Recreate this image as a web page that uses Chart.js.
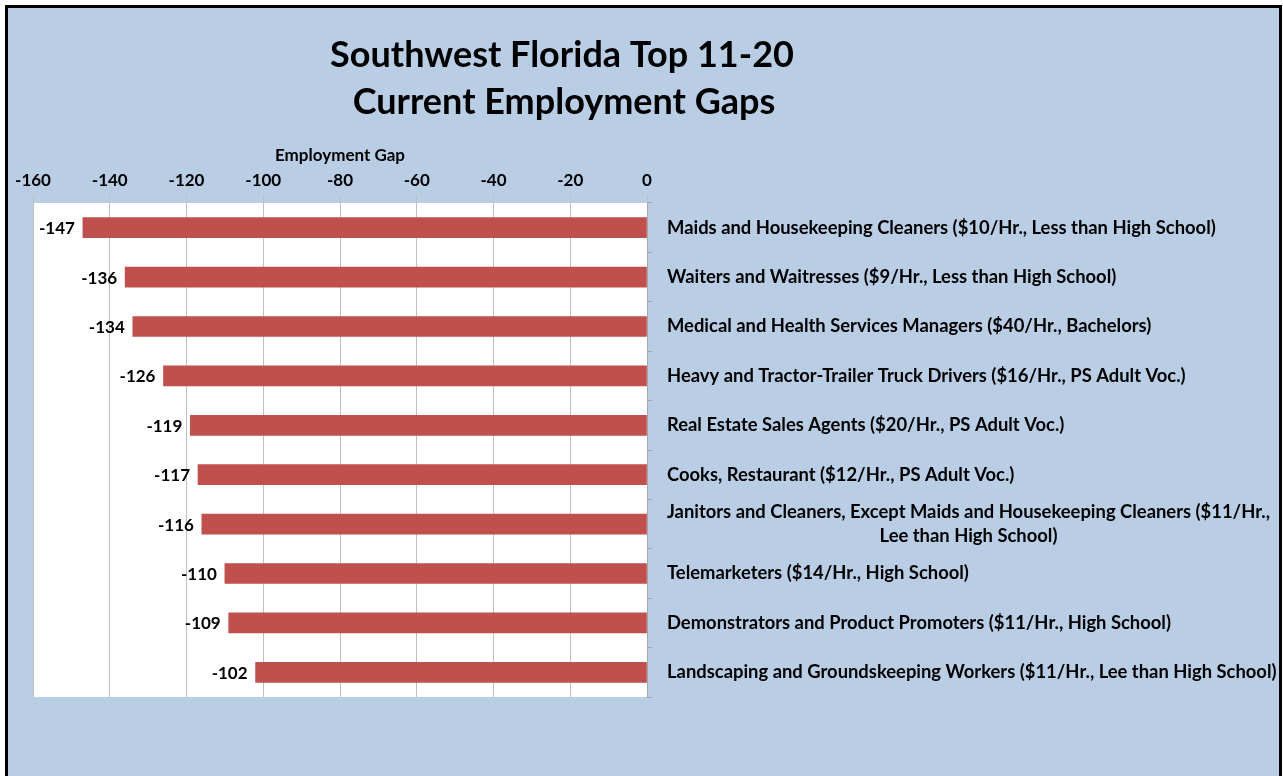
<!DOCTYPE html>
<html>
<head>
<meta charset="utf-8">
<script src="https://cdn.jsdelivr.net/npm/chart.js@4.4.1/dist/chart.umd.min.js"></script>
<style>
  body { margin: 0; background: #fff; }
  #wrap { width: 1283px; height: 776px; }
</style>
</head>
<body>
<div id="wrap"><canvas id="myChart" width="1283" height="776"></canvas></div>
<script>
const titleLines = ['Southwest Florida Top 11-20', 'Current Employment Gaps'];
const occupations = [
  ['Maids and Housekeeping Cleaners ($10/Hr., Less than High School)'],
  ['Waiters and Waitresses ($9/Hr., Less than High School)'],
  ['Medical and Health Services Managers ($40/Hr., Bachelors)'],
  ['Heavy and Tractor-Trailer Truck Drivers ($16/Hr., PS Adult Voc.)'],
  ['Real Estate Sales Agents ($20/Hr., PS Adult Voc.)'],
  ['Cooks, Restaurant ($12/Hr., PS Adult Voc.)'],
  ['Janitors and Cleaners, Except Maids and Housekeeping Cleaners ($11/Hr.,', 'Lee than High School)'],
  ['Telemarketers ($14/Hr., High School)'],
  ['Demonstrators and Product Promoters ($11/Hr., High School)'],
  ['Landscaping and Groundskeeping Workers ($11/Hr., Lee than High School)']
];
const gaps = [-147, -136, -134, -126, -119, -117, -116, -110, -109, -102];
const axisMin = -160;
const axisMax = 0;
const axisStep = 20;

const FONT = 'Lato, "Open Sans", sans-serif';

// light blue slide panel with the black frame
const backdrop = {
  id: 'backdrop',
  beforeDraw(chart) {
    const c = chart.ctx;
    c.save();
    c.fillStyle = '#fff';
    c.fillRect(0, 0, chart.width, chart.height);
    c.fillStyle = '#B9CDE5';
    c.fillRect(7, 7, 1273, chart.height - 7);
    c.fillStyle = '#000';
    c.fillRect(5, 5, 1276, 3);
    c.fillRect(5, 5, 3, chart.height - 5);
    c.fillRect(1279, 5, 3, chart.height - 5);
    // white plot area
    const a = chart.chartArea;
    c.fillStyle = '#fff';
    c.fillRect(a.left, a.top, a.right - a.left, a.bottom - a.top);
    c.restore();
  }
};

const headline = {
  id: 'headline',
  afterDraw(chart) {
    const c = chart.ctx;
    c.save();
    c.fillStyle = '#000';
    c.font = 'bold 36px ' + FONT;
    c.textAlign = 'center';
    c.textBaseline = 'middle';
    c.fillText(titleLines[0], 562, 55);
    c.fillText(titleLines[1], 564, 102);
    c.restore();
  }
};

// value labels left of each bar end
const valueLabels = {
  id: 'valueLabels',
  afterDatasetsDraw(chart) {
    const c = chart.ctx;
    const meta = chart.getDatasetMeta(0);
    c.save();
    c.fillStyle = '#000';
    c.font = 'bold 17px ' + FONT;
    c.textAlign = 'right';
    c.textBaseline = 'middle';
    meta.data.forEach((bar, i) => {
      c.fillText(gaps[i], bar.x - 8, bar.y + 1);
    });
    c.restore();
  }
};

// category names on the right, wrapped ones centred like the original
const rightLabels = {
  id: 'rightLabels',
  afterDraw(chart) {
    const c = chart.ctx;
    const y = chart.scales.y;
    const x0 = chart.chartArea.right + 20;
    c.save();
    c.fillStyle = '#000';
    c.font = 'bold 18.4px ' + FONT;
    c.textBaseline = 'middle';
    occupations.forEach((lines, i) => {
      const yc = y.getPixelForValue(i);
      if (lines.length === 1) {
        c.textAlign = 'left';
        c.fillText(lines[0], x0, yc);
      } else {
        const w = Math.max(...lines.map(l => c.measureText(l).width));
        const lh = 24;
        c.textAlign = 'center';
        lines.forEach((l, k) => {
          c.fillText(l, x0 + w / 2, yc + (k - (lines.length - 1) / 2) * lh);
        });
      }
    });
    c.restore();
  }
};

var ctx = document.getElementById('myChart').getContext('2d');
var myChart = new Chart(ctx, {
  type: 'bar',
  data: {
    labels: occupations,
    datasets: [{
      label: 'Employment Gap',
      data: gaps,
      backgroundColor: '#C0504D',
      borderColor: '#C0504D',
      borderWidth: 0,
      barThickness: 20
    }]
  },
  options: {
    indexAxis: 'y',
    responsive: false,
    animation: false,
    layout: { padding: { left: 33, top: 140, right: 0, bottom: 79 } },
    plugins: {
      legend: { display: false },
      tooltip: { enabled: false },
      title: { display: false }
    },
    scales: {
      x: {
        position: 'top',
        min: axisMin,
        max: axisMax,
        ticks: {
          stepSize: axisStep,
          color: '#000',
          padding: 4,
          font: { family: FONT, size: 17, weight: 'bold' }
        },
        grid: { color: '#BFBFBF', tickLength: 8, tickColor: '#BFBFBF' },
        border: { display: false },
        title: {
          display: true,
          text: 'Employment Gap',
          color: '#000',
          padding: { top: 5, bottom: 2 },
          font: { family: FONT, size: 17, weight: 'bold' }
        },
        afterFit(scale) { scale.height = 63; }
      },
      y: {
        position: 'right',
        ticks: { display: false },
        grid: {
          offset: true,
          drawOnChartArea: false,
          tickLength: 5,
          color: '#A6A6A6'
        },
        border: { display: true, color: '#A6A6A6' },
        afterFit(scale) { scale.width = 636; }
      }
    }
  },
  plugins: [backdrop, headline, valueLabels, rightLabels]
});
</script>
</body>
</html>
